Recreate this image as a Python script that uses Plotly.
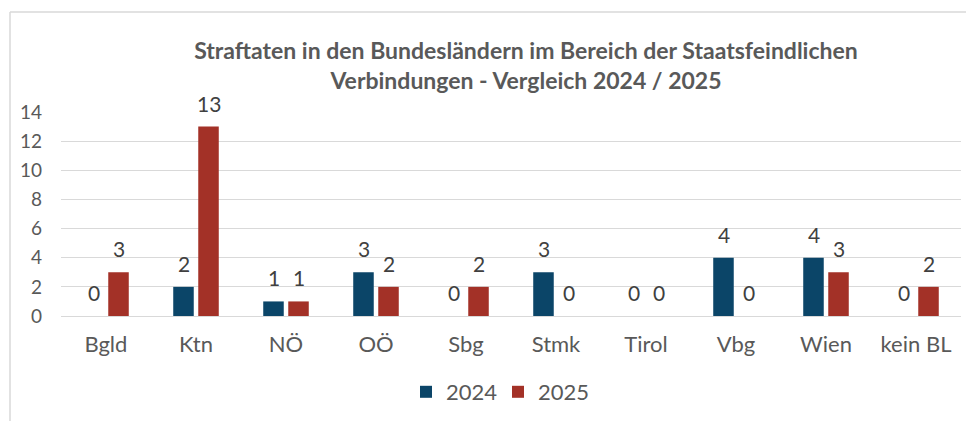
import plotly.graph_objects as go

categories = ["Bgld", "Ktn", "NÖ", "OÖ", "Sbg", "Stmk", "Tirol", "Vbg", "Wien", "kein BL"]
values_2024 = [0, 2, 1, 3, 0, 3, 0, 4, 4, 0]
values_2025 = [3, 13, 1, 2, 2, 0, 0, 0, 3, 2]
series_names = ["2024", "2025"]
y_ticks = [0, 2, 4, 6, 8, 10, 12, 14]

BLUE = "#0B4568"
RED = "#A33127"
FONT = "Lato, Noto Sans, sans-serif"

fig = go.Figure()
for name, vals, col in [(series_names[0], values_2024, BLUE), (series_names[1], values_2025, RED)]:
    fig.add_trace(go.Bar(x=categories, y=vals, name=name, marker_color=col,
                         marker_line_width=0, hoverinfo="x+y"))

annotations = []
for vals, shift in [(values_2024, -12.5), (values_2025, 12.5)]:
    for c, v in zip(categories, vals):
        annotations.append(dict(x=c, y=v, xref="x", yref="y", text=str(v), showarrow=False,
                                xshift=shift, yshift=9, yanchor="bottom",
                                font=dict(family=FONT, size=21, color="#404040")))

# page body has an 8px margin, so figure coords = screen coords - 8
W, H = 966, 413
ml, mr, mt, mb = 53, 13, 104, 105
pw, ph = W - ml - mr, H - mt - mb

# chart outline (top and left edges visible)
x0 = (2 - ml) / pw
y1 = (H - 4 - mb) / ph
fig.add_shape(type="line", xref="paper", yref="paper", x0=x0, x1=1.1, y0=y1, y1=y1,
              line=dict(color="#D9D9D9", width=1.5))
fig.add_shape(type="line", xref="paper", yref="paper", x0=x0, x1=x0, y0=-0.6, y1=y1,
              line=dict(color="#D9D9D9", width=1.5))

fig.update_layout(
    width=W, height=H,
    margin=dict(l=ml, r=mr, t=mt, b=mb, autoexpand=False),
    paper_bgcolor="white", plot_bgcolor="white",
    barmode="group", bargap=0.444, bargroupgap=0.18,
    title=dict(text="Straftaten in den Bundesländern im Bereich der Staatsfeindlichen<br>Verbindungen - Vergleich 2024 / 2025",
               x=518 / W, xanchor="center", y=1 - 51 / H, yanchor="middle",
               font=dict(family=FONT, size=23, color="#595959", weight="bold")),
    font=dict(family=FONT, color="#595959"),
    xaxis=dict(showgrid=False, showline=False, ticks="", tickfont=dict(size=22, color="#595959"),
               ticklabelstandoff=13, fixedrange=True),
    yaxis=dict(range=[0, 14], tickvals=y_ticks, showgrid=True, gridcolor="#D9D9D9", gridwidth=1,
               zeroline=True, zerolinecolor="#D9D9D9", zerolinewidth=1, showline=False,
               tickfont=dict(size=19, color="#595959"), ticklabelstandoff=18, fixedrange=True),
    legend=dict(orientation="h", x=(490 - ml) / pw, xanchor="center", y=-76 / ph, yanchor="middle",
                font=dict(size=22, color="#595959"), itemwidth=30, entrywidth=47,
                entrywidthmode="pixels", traceorder="normal"),
    annotations=annotations,
    showlegend=True,
)

fig.write_html("out.html")
